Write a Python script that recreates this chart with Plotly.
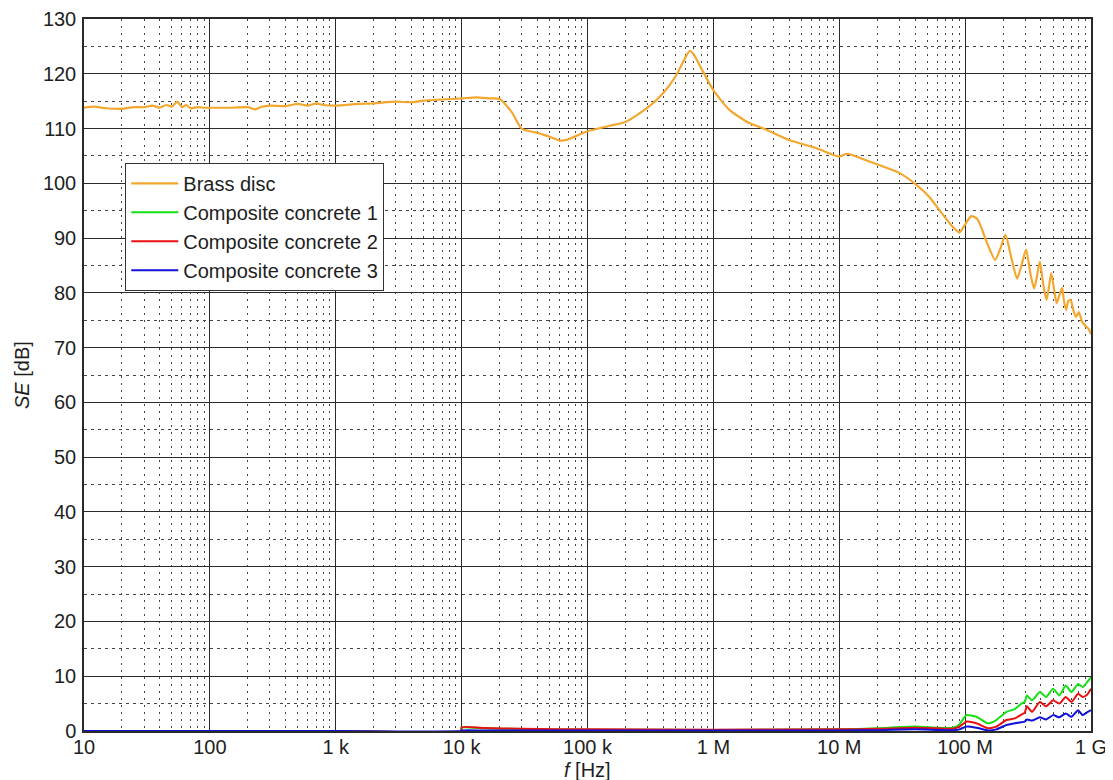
import plotly.graph_objects as go

# ---------------- data ----------------
brass_f = [10, 12, 15, 20, 25, 30, 35, 40, 45, 50, 55, 60, 65, 70, 80, 90,
           100, 150, 200, 230, 260, 300, 400, 500, 600, 700, 800, 1000,
           1500, 2000, 3000, 4000, 5000, 7000, 10000, 13000, 17000, 20000,
           25000, 30000, 40000, 50000, 60000, 70000, 100000, 150000, 200000,
           300000, 400000, 500000, 600000, 650000, 700000, 800000, 1000000,
           1340000, 1930000, 2500000, 4000000, 6600000, 10000000, 11600000,
           15500000, 21000000, 30000000, 41000000, 52000000, 63000000,
           80000000, 90000000, 100000000, 112000000, 125000000, 150000000,
           173000000, 190000000, 209000000, 235000000, 259000000, 280000000,
           305000000, 330000000, 353000000, 372000000, 392000000, 418000000,
           443000000, 463000000, 483000000, 510000000, 533000000, 560000000,
           590000000, 610000000, 634000000, 660000000, 690000000, 720000000,
           760000000, 800000000, 850000000, 900000000, 950000000, 1000000000]
brass_se = [113.8, 114.0, 113.7, 113.6, 113.9, 113.9, 114.2, 113.8, 114.3, 114.0,
            114.9, 113.9, 114.3, 113.7, 113.9, 113.8,
            113.8, 113.8, 113.9, 113.5, 114.0, 114.2, 114.1, 114.5, 114.2, 114.6,
            114.3, 114.2,
            114.5, 114.6, 114.9, 114.8, 115.1, 115.3, 115.5, 115.7, 115.5, 115.4,
            113.0, 110.0, 109.2, 108.5, 107.8, 108.0, 109.5, 110.5, 111.2,
            113.8, 116.5, 119.5, 123.0, 124.2, 123.5, 121.0, 117.0,
            113.4, 111.0, 110.0, 107.9, 106.4, 104.9, 105.4,
            104.4, 103.3, 101.9, 99.7, 97.5, 95.0,
            92.0, 91.0, 92.5, 94.0, 93.5, 89.0,
            86.0, 88.0, 90.6, 86.0, 82.6, 85.0,
            87.9, 83.5, 80.8, 83.0, 85.7, 81.5,
            78.7, 81.0, 83.6, 80.5, 78.1, 79.5,
            80.9, 78.5, 76.9, 78.5, 78.7, 77.0,
            75.6, 76.5, 74.7, 74.0, 73.5, 72.5]

conc_f = [10, 1000, 9900, 10000, 15000, 30000, 100000, 1000000, 10000000,
          20000000, 40000000, 60000000, 80000000, 90000000, 102000000,
          123000000, 152000000, 177000000, 213000000, 248000000, 280000000,
          297000000, 310000000, 340000000, 392000000, 440000000, 500000000,
          560000000, 630000000, 700000000, 790000000, 860000000, 930000000,
          1000000000]
conc1_se = [0.0, 0.0, 0.0, 0.6, 0.5, 0.35, 0.25, 0.2, 0.3,
            0.5, 0.8, 0.6, 0.6, 1.2, 2.9,
            2.6, 1.4, 2.0, 3.5, 4.0, 5.0,
            5.3, 6.5, 5.6, 7.1, 6.2, 7.7,
            6.5, 8.3, 7.1, 8.6, 8.0, 8.9,
            9.8]
conc2_se = [0.0, 0.0, 0.0, 0.7, 0.55, 0.4, 0.3, 0.25, 0.3,
            0.4, 0.6, 0.5, 0.4, 0.8, 1.7,
            1.4, 0.5, 0.8, 2.0, 2.3, 3.0,
            3.3, 4.5, 3.5, 5.3, 4.5, 5.6,
            5.0, 6.2, 5.3, 6.8, 6.2, 6.6,
            7.7]
conc3_se = [0.0, 0.0, 0.0, 0.1, 0.1, 0.1, 0.1, 0.1, 0.1,
            0.15, 0.3, 0.2, 0.15, 0.3, 0.8,
            0.6, 0.1, 0.3, 1.1, 1.4, 1.6,
            1.7, 2.1, 1.9, 2.5, 2.1, 2.9,
            2.5, 3.2, 2.6, 3.8, 2.9, 3.4,
            3.8]

x_tickvals = [1e1, 1e2, 1e3, 1e4, 1e5, 1e6, 1e7, 1e8, 1e9]
x_ticktext = ["10", "100", "1 k", "10 k", "100 k", "1 M", "10 M", "100 M", "1 G"]
x_minor = [m * 10 ** d for d in range(1, 9) for m in range(2, 10)]

FONT = "Liberation Sans, Arial, sans-serif"
TXT = "#1e1e1e"

fig = go.Figure()
fig.add_trace(go.Scatter(x=brass_f, y=brass_se, mode="lines", name="Brass disc",
                         line=dict(color="#F4A72E", width=2.2, shape="spline", smoothing=0.6)))
fig.add_trace(go.Scatter(x=conc_f, y=conc1_se, mode="lines", name="Composite concrete 1",
                         line=dict(color="#14E014", width=2, shape="spline", smoothing=0.5)))
fig.add_trace(go.Scatter(x=conc_f, y=conc2_se, mode="lines", name="Composite concrete 2",
                         line=dict(color="#E81010", width=2, shape="spline", smoothing=0.5)))
fig.add_trace(go.Scatter(x=conc_f, y=conc3_se, mode="lines", name="Composite concrete 3",
                         line=dict(color="#1010D8", width=2, shape="spline", smoothing=0.5)))

# the page body adds an 8 px margin, so the figure is 16 px smaller and shifted
fig.update_layout(
    width=1105, height=772,
    margin=dict(l=76, r=22, t=11, b=49),
    paper_bgcolor="white", plot_bgcolor="white",
    font=dict(family=FONT, size=20, color=TXT),
    showlegend=True,
    legend=dict(x=0.041, y=0.798, xanchor="left", yanchor="top",
                bgcolor="white", bordercolor="#333", borderwidth=1,
                font=dict(size=20, family=FONT, color=TXT),
                itemwidth=47, tracegroupgap=0),
    xaxis=dict(type="log", range=[1, 9], tickmode="array",
               tickvals=x_tickvals, ticktext=x_ticktext,
               showgrid=True, gridcolor="#2a2a2a", gridwidth=1.3,
               showline=True, linecolor="#2a2a2a", linewidth=1.5, mirror=True,
               ticks="", zeroline=False, automargin=False,
               ticklabeloverflow="allow", ticklabelstandoff=-3,
               tickfont=dict(size=20, family=FONT, color=TXT),
               minor=dict(tickmode="array", tickvals=x_minor, showgrid=True,
                          gridcolor="#444", gridwidth=1, griddash="2px,5px", ticks="")),
    yaxis=dict(range=[0, 130], tickmode="linear", tick0=0, dtick=10,
               showgrid=True, gridcolor="#2a2a2a", gridwidth=1.3,
               showline=True, linecolor="#2a2a2a", linewidth=1.5, mirror=True,
               ticks="", zeroline=False, automargin=False,
               ticklabeloverflow="allow", ticklabelstandoff=2,
               tickfont=dict(size=20, family=FONT, color=TXT),
               minor=dict(dtick=5, showgrid=True, gridcolor="#444", gridwidth=1,
                          griddash="3px,4px", ticks="")),
    annotations=[
        dict(text="<i>f</i> [Hz]", xref="paper", yref="paper", x=0.5, y=-0.0548,
             xanchor="center", yanchor="middle", showarrow=False,
             font=dict(size=20, family=FONT, color=TXT)),
        dict(text="<i>SE</i> [dB]", xref="paper", yref="paper", x=-0.0616, y=0.5,
             xanchor="center", yanchor="middle", textangle=-90, showarrow=False,
             font=dict(size=20, family=FONT, color=TXT)),
    ],
)

fig.write_html("out.html")
